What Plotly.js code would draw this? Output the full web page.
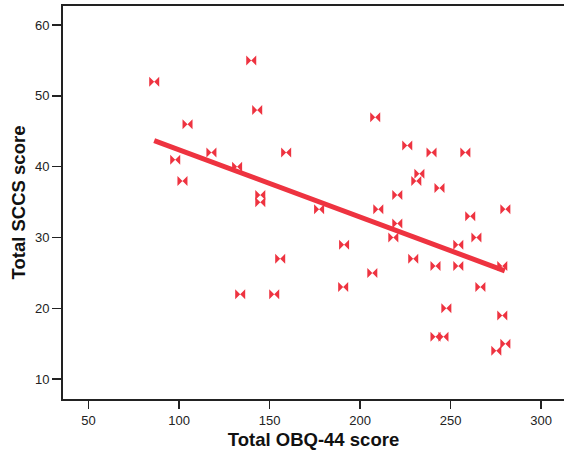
<!DOCTYPE html>
<html>
<head>
<meta charset="utf-8">
<script src="https://cdn.plot.ly/plotly-3.0.1.min.js"></script>
<style>html,body{margin:0;padding:0;background:#fff}#chart{width:564px;height:452px}</style>
</head>
<body>
<div id="chart"></div>
<script>
const obq = [86.3, 97.9, 101.9, 104.7, 117.9, 132.1, 133.8, 139.9, 143.2, 144.9, 144.9, 152.6, 155.9, 159.2, 177.4, 191.2, 190.7, 206.8, 208.4, 210.1, 218.4, 220.6, 220.6, 226.1, 229.4, 231.1, 232.8, 239.5, 241.7, 241.7, 243.9, 246.1, 247.7, 254.3, 254.3, 258.2, 260.9, 264.3, 266.5, 275.3, 278.6, 278.6, 280.3, 280.3];
const sccs = [52, 41, 38, 46, 42, 40, 22, 55, 48, 36, 35, 22, 27, 42, 34, 29, 23, 25, 47, 34, 30, 36, 32, 43, 27, 38, 39, 42, 26, 16, 37, 16, 20, 29, 26, 42, 33, 30, 23, 14, 26, 19, 15, 34];
const fitX = [86.3, 280];
const fitY = [43.7, 25.3];
const xTicks = [50, 100, 150, 200, 250, 300];
const yTicks = [10, 20, 30, 40, 50, 60];

const red = '#ee3340';
const data = [
  {x: fitX, y: fitY, mode: 'lines', type: 'scatter', line: {color: red, width: 5}, hoverinfo: 'skip'},
  {x: obq, y: sccs, mode: 'markers', type: 'scatter',
   marker: {symbol: 'bowtie', size: 10, color: red, line: {width: 0}}}
];
const font = {family: 'Liberation Sans, Arial, sans-serif', color: '#222'};
const layout = {
  width: 564, height: 452,
  margin: {l: 63, r: 0, t: 6, b: 53},
  paper_bgcolor: '#fff', plot_bgcolor: '#fff',
  showlegend: false,
  font: font,
  xaxis: {
    range: [35.9, 312.7], tickvals: xTicks, ticks: 'outside', ticklen: 8, tickwidth: 1.5,
    tickcolor: '#222', showgrid: false, zeroline: false, showline: true, linecolor: '#222',
    linewidth: 2, mirror: true, tickfont: {size: 13, color: '#222'},
    title: {text: 'Total OBQ-44 score', font: {size: 18.5, color: '#111', weight: 'bold'}, standoff: 6}
  },
  yaxis: {
    range: [7.2, 62.7], tickvals: yTicks, ticks: 'outside', ticklen: 9, tickwidth: 1.5,
    tickcolor: '#222', showgrid: false, zeroline: false, showline: true, linecolor: '#222',
    linewidth: 2, mirror: false, tickfont: {size: 13, color: '#222'},
    title: {text: 'Total SCCS score', font: {size: 18.5, color: '#111', weight: 'bold'}, standoff: 4}
  }
};
Plotly.newPlot('chart', data, layout, {displayModeBar: false, staticPlot: true});
</script>
</body>
</html>
